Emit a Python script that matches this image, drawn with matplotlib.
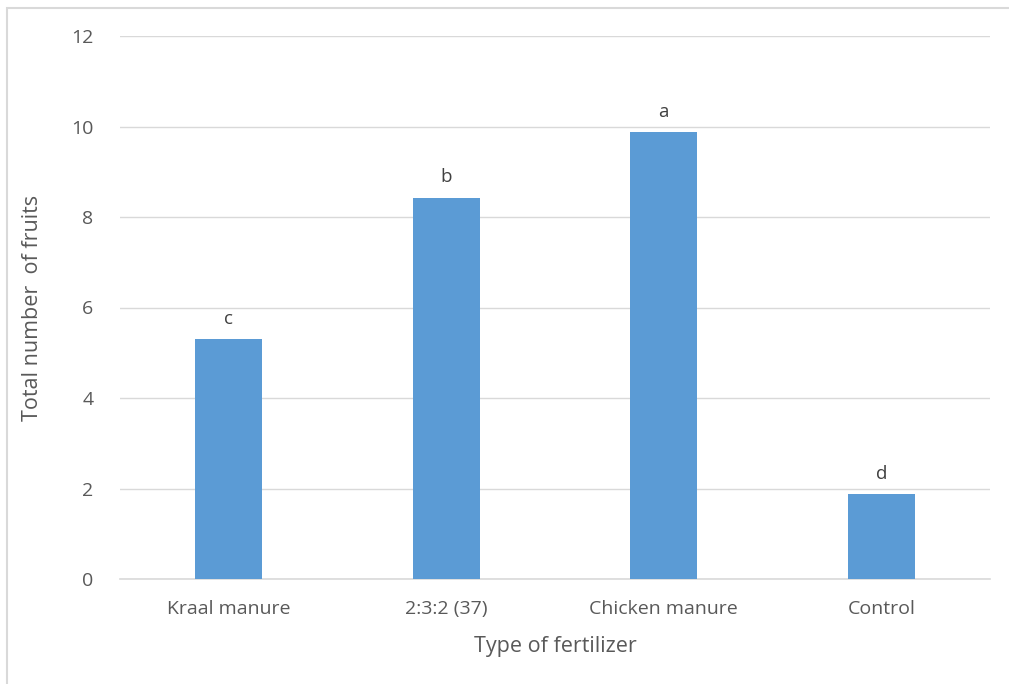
import matplotlib
matplotlib.use("Agg")
import matplotlib.pyplot as plt
from matplotlib.patches import Rectangle

# data
categories = ["Kraal manure", "2:3:2 (37)", "Chicken manure", "Control"]
fruits = [5.3, 8.43, 9.87, 1.87]
letters = ["c", "b", "a", "d"]
yticks = [0, 2, 4, 6, 8, 10, 12]

text_col = "#595959"
grid_col = "#d9d9d9"
bar_col = "#5b9bd5"

plt.rcParams["font.family"] = ["Open Sans", "DejaVu Sans"]

fig = plt.figure(figsize=(10.09, 6.84), dpi=100)
ax = fig.add_axes([120 / 1009, 1 - 579 / 684, 870 / 1009, 543 / 684])

x = list(range(len(categories)))
ax.bar(x, fruits, width=0.31, color=bar_col, zorder=3)
for xi, v, lab in zip(x, fruits, letters):
    ax.annotate(lab, (xi, v), xytext=(0, 8), textcoords="offset points",
                ha="center", va="bottom", fontsize=13.5, color="#404040")

ax.set_xlim(-0.5, len(categories) - 0.5)
ax.set_ylim(0, 12)
ax.set_yticks(yticks)
ax.set_xticks(x)
ax.set_xticklabels(categories)
ax.grid(axis="y", color=grid_col, linewidth=1, zorder=0)
for s in ["top", "right", "left"]:
    ax.spines[s].set_visible(False)
ax.spines["bottom"].set_color(grid_col)
ax.spines["bottom"].set_linewidth(1.2)
ax.tick_params(axis="both", length=0, labelsize=14, colors=text_col)
ax.tick_params(axis="y", pad=19)
ax.tick_params(axis="x", pad=15)

ax.set_xlabel("Type of fertilizer", fontsize=15.5, color=text_col, labelpad=13)
ax.set_ylabel("Total number  of fruits", fontsize=15.5, color=text_col, labelpad=20)

# chart border as in the reference
fig.patches.append(Rectangle((7 / 1009, -0.05), 1.1, 1 - 8 / 684 + 0.05,
                             transform=fig.transFigure, fill=False,
                             edgecolor=grid_col, linewidth=1.5))

fig.savefig("out.png", dpi=100)
